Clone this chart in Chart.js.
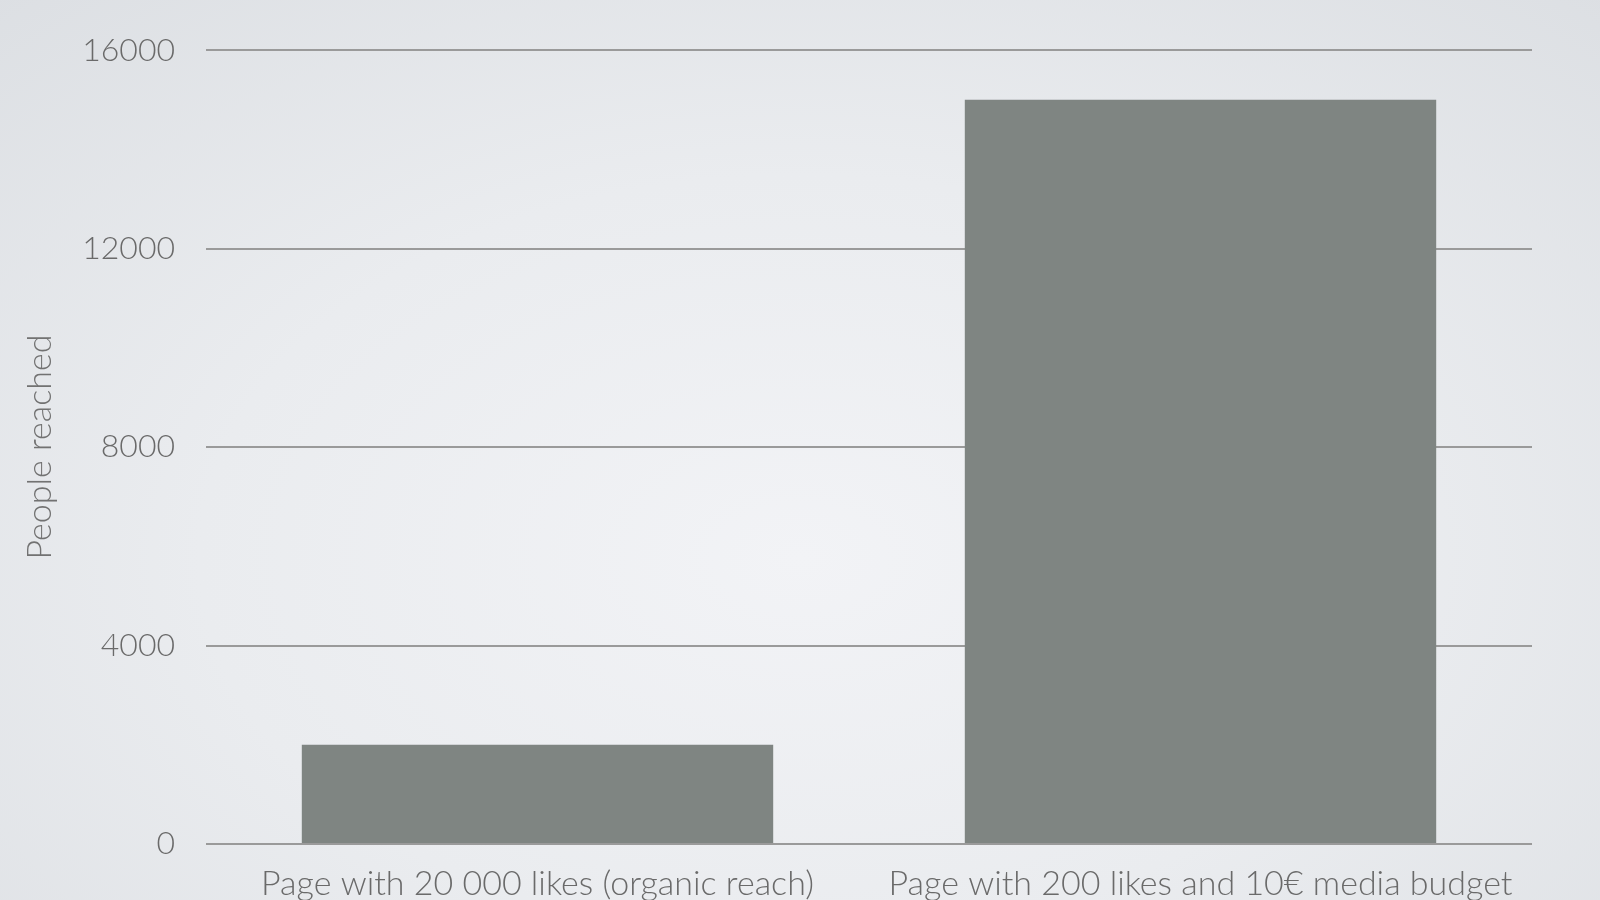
<!DOCTYPE html>
<html>
<head>
<meta charset="utf-8">
<script src="https://cdn.jsdelivr.net/npm/chart.js@4.4.0/dist/chart.umd.min.js"></script>
<style>
  html, body { margin: 0; padding: 0; width: 1600px; height: 900px; overflow: hidden; }
  body { background: radial-gradient(ellipse 75% 85% at 50% 62%, #f2f3f6 0%, #eaecef 50%, #dcdfe3 100%); }
  #wrap { position: absolute; left: 0; top: 0; width: 1600px; height: 940px; }
</style>
</head>
<body>
<div id="wrap"><canvas id="c" width="1600" height="940"></canvas></div>
<script>
const categories = ["Page with 20 000 likes (organic reach)", "Page with 200 likes and 10€ media budget"];
const peopleReached = [2000, 15000];
const yTicks = [0, 4000, 8000, 12000, 16000];
const yTitle = "People reached";

const FONT = "Lato, 'Open Sans', 'DejaVu Sans', sans-serif";

new Chart(document.getElementById('c'), {
  type: 'bar',
  data: {
    labels: categories,
    datasets: [{
      data: peopleReached,
      backgroundColor: '#7f8582',
      borderWidth: 0,
      barPercentage: 0.711,
      categoryPercentage: 1.0
    }]
  },
  options: {
    responsive: false,
    animation: false,
    devicePixelRatio: 1,
    layout: { padding: { top: 49, right: 68, left: 0, bottom: 0 } },
    plugins: { legend: { display: false }, tooltip: { enabled: false } },
    scales: {
      x: {
        grid: { display: false, drawTicks: false },
        border: { display: false },
        ticks: {
          color: '#6a6a6a',
          font: { family: FONT, size: 34, weight: 300 },
          padding: 20,
          maxRotation: 0,
          autoSkip: false
        },
        afterFit: (s) => { s.height = 96; }
      },
      y: {
        min: 0,
        max: 16000,
        afterBuildTicks: (s) => { s.ticks = yTicks.map(v => ({ value: v })); },
        grid: { color: '#9a9a9a', lineWidth: 2, drawTicks: false },
        border: { display: false },
        ticks: {
          color: '#6a6a6a',
          font: { family: FONT, size: 32, weight: 300 },
          padding: 31,
          callback: (v) => String(v)
        },
        title: {
          display: true,
          text: yTitle,
          color: '#727272',
          font: { family: FONT, size: 34, weight: 300 },
          padding: { top: 20, bottom: 0 }
        },
        afterFit: (s) => { s.width = 206; }
      }
    }
  }
});
</script>
</body>
</html>
